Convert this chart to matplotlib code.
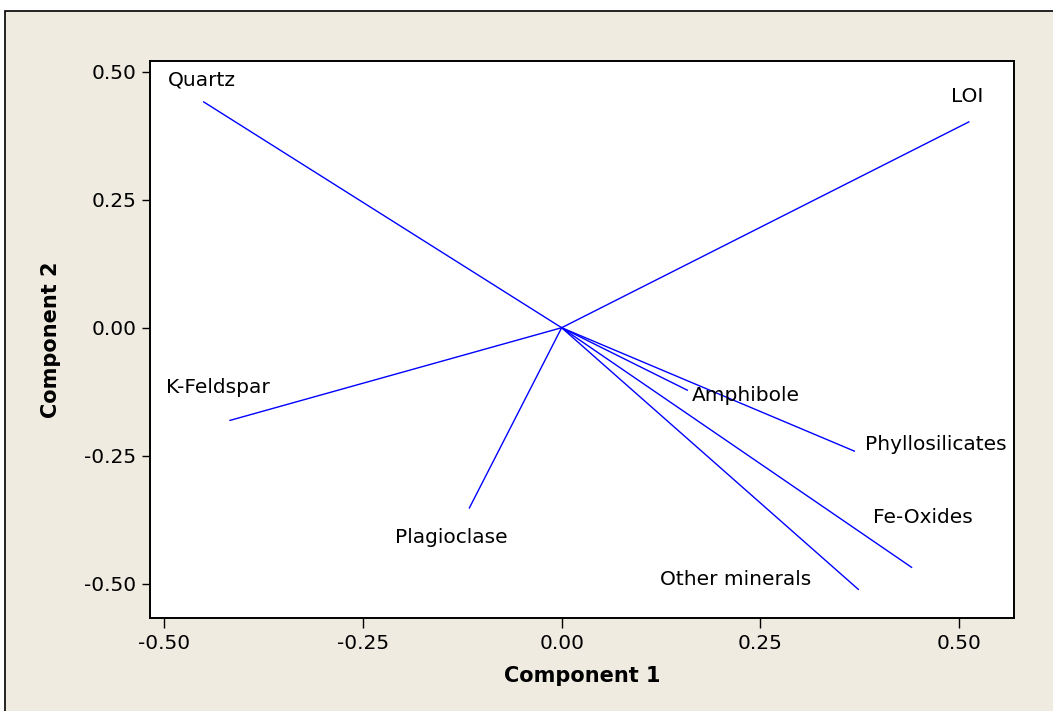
import matplotlib
matplotlib.use('Agg')
import matplotlib.pyplot as plt
from matplotlib.patches import Rectangle

# PCA loadings
variables = ['Quartz', 'LOI', 'K-Feldspar', 'Plagioclase', 'Amphibole',
             'Phyllosilicates', 'Fe-Oxides', 'Other minerals']
comp1 = [-0.450, 0.512, -0.417, -0.116, 0.158, 0.368, 0.440, 0.373]
comp2 = [0.441, 0.402, -0.181, -0.352, -0.122, -0.241, -0.468, -0.511]

ticks = [-0.50, -0.25, 0.00, 0.25, 0.50]
tick_labels = ['-0.50', '-0.25', '0.00', '0.25', '0.50']

# label offsets (points) relative to each arrow tip, with alignment
label_offsets = {
    'Quartz': (-1, 16, 'center'),
    'LOI': (-1, 18, 'center'),
    'K-Feldspar': (-9, 24, 'center'),
    'Plagioclase': (-13, -21, 'center'),
    'Amphibole': (3, -4, 'left'),
    'Phyllosilicates': (8, 5, 'left'),
    'Fe-Oxides': (-28, 36, 'left'),
    'Other minerals': (-143, 7, 'left'),
}

plt.rcParams['font.family'] = ['DejaVu Sans']
bg = '#EFEBE1'
fs = 14.5

fig = plt.figure(figsize=(10.53, 7.11), dpi=100)
fig.patch.set_facecolor('white')
fig.patches.append(Rectangle((5 / 1053, -0.01), 1.02, 1 - 11 / 711 + 0.01,
                             transform=fig.transFigure, facecolor=bg,
                             edgecolor='black', linewidth=1.2, zorder=-1))

ax = fig.add_axes([150 / 1053, 1 - 618 / 711, (1014 - 150) / 1053, (618 - 61) / 711])
ax.set_facecolor('white')

for name, x, y in zip(variables, comp1, comp2):
    ax.plot([0, x], [0, y], color='#0000FF', linewidth=1.0)
    dx, dy, ha = label_offsets[name]
    ax.annotate(name, (x, y), xytext=(dx, dy), textcoords='offset points',
                ha=ha, va='center', fontsize=fs, color='black')

ax.set_xlim(-0.5176, 0.5688)
ax.set_ylim(-0.567, 0.521)
ax.set_xticks(ticks)
ax.set_xticklabels(tick_labels)
ax.set_yticks(ticks)
ax.set_yticklabels(tick_labels)
ax.tick_params(direction='out', width=1.0, labelsize=fs)
ax.tick_params(axis='x', length=7.2, pad=4)
ax.tick_params(axis='y', length=5.8, pad=4)
for sp in ax.spines.values():
    sp.set_linewidth(1.4)

ax.set_xlabel('Component 1', fontsize=15, fontweight='bold', labelpad=9.5)
ax.set_ylabel('Component 2', fontsize=15, fontweight='bold', labelpad=16.5)

fig.savefig('out.png', dpi=100, facecolor=fig.get_facecolor())
